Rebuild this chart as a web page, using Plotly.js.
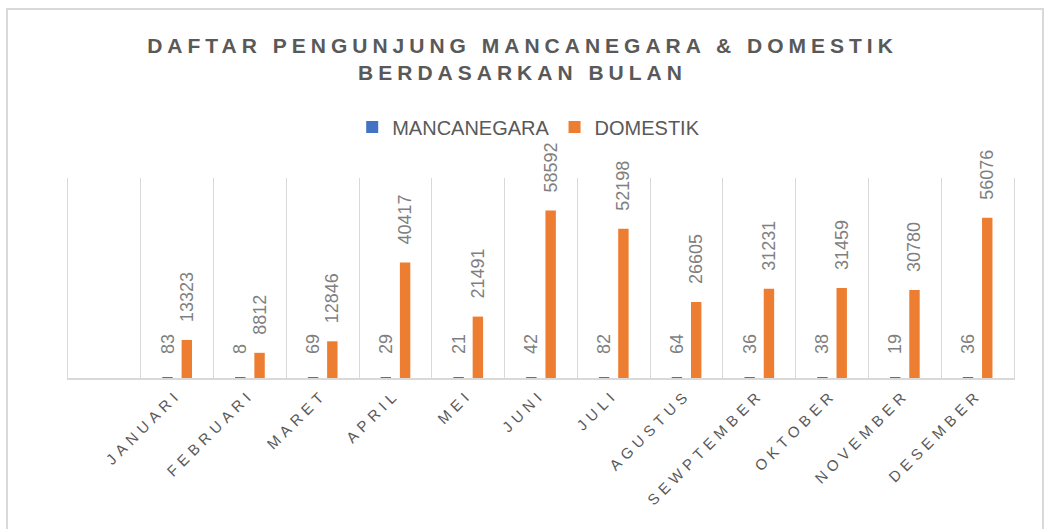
<!DOCTYPE html>
<html><head><meta charset="utf-8">
<script src="https://cdn.plot.ly/plotly-3.0.1.min.js"></script>
<style>
html,body{margin:0;padding:0;background:#fff;overflow:hidden}
#frame{position:absolute;left:6px;top:8px;width:1038px;height:540px;border:2px solid #d9d9d9;box-sizing:border-box}
#chart{position:absolute;left:0;top:0;width:1045px;height:529px}
#chart .xtick text{letter-spacing:5px}
#chart .gtitle{letter-spacing:5px}
</style></head><body>
<div id="frame"></div><div id="chart"></div>
<script>
const months = ["JANUARI","FEBRUARI","MARET","APRIL","MEI","JUNI","JULI","AGUSTUS","SEWPTEMBER","OKTOBER","NOVEMBER","DESEMBER"];
const mancanegara = [83, 8, 69, 29, 21, 42, 82, 64, 36, 38, 19, 36];
const domestik = [13323, 8812, 12846, 40417, 21491, 58592, 52198, 26605, 31231, 31459, 30780, 56076];
const blankSlot = " ";
const categories = [blankSlot].concat(months);

const labelFont = {family: "Liberation Sans, Arial, sans-serif", size: 18, color: "#7f7f7f"};

const traces = [
  {type: "bar", name: "MANCANEGARA", x: months, y: mancanegara,
   marker: {color: "#4472C4", line: {width: 0}},
   texttemplate: "\u00a0\u00a0\u00a0\u00a0%{y:.0f}", textposition: "outside", textangle: -90,
   textfont: labelFont, cliponaxis: false, constraintext: "none", hoverinfo: "x+y+name"},
  {type: "bar", name: "DOMESTIK", x: months, y: domestik,
   marker: {color: "#ED7D31", line: {width: 0}},
   texttemplate: "\u00a0\u00a0\u00a0%{y:.0f}", textposition: "outside", textangle: -90,
   textfont: labelFont, cliponaxis: false, constraintext: "none", hoverinfo: "x+y+name"}
];

const layout = {
  width: 1045, height: 529,
  paper_bgcolor: "rgba(0,0,0,0)", plot_bgcolor: "rgba(0,0,0,0)",
  margin: {l: 68, r: 31, t: 178, b: 151, pad: 0},
  title: {
    text: "DAFTAR PENGUNJUNG MANCANEGARA & DOMESTIK<br>BERDASARKAN BULAN",
    font: {family: "Liberation Sans, Arial, sans-serif", size: 21, color: "#595959", weight: "bold"},
    x: 0.5, xref: "container", xanchor: "center",
    y: 0.90, yref: "container", yanchor: "top"
  },
  barmode: "group", bargap: 0.47, bargroupgap: 0.46,
  showlegend: true,
  legend: {orientation: "h", x: 0.487, xanchor: "center", y: 1.255, yanchor: "middle",
           font: {family: "Liberation Sans, Arial, sans-serif", size: 20, color: "#595959"},
           bgcolor: "rgba(0,0,0,0)", traceorder: "normal"},
  xaxis: {
    type: "category", categoryorder: "array", categoryarray: categories,
    range: [-0.5, categories.length - 0.5], fixedrange: true,
    tickson: "boundaries", ticks: "", showgrid: true, gridcolor: "#d9d9d9", gridwidth: 1.3,
    showline: true, linecolor: "#d9d9d9", linewidth: 1.5,
    tickangle: -45, tickfont: {family: "Liberation Sans, Arial, sans-serif", size: 15, color: "#595959"},
    automargin: false
  },
  yaxis: {
    range: [0, 70000], fixedrange: true,
    showgrid: false, zeroline: false, showticklabels: false, ticks: "",
    showline: true, mirror: true, linecolor: "#d9d9d9", linewidth: 1.3,
    automargin: false
  }
};

Plotly.newPlot("chart", traces, layout, {displayModeBar: false, responsive: false});
</script>
</body></html>
